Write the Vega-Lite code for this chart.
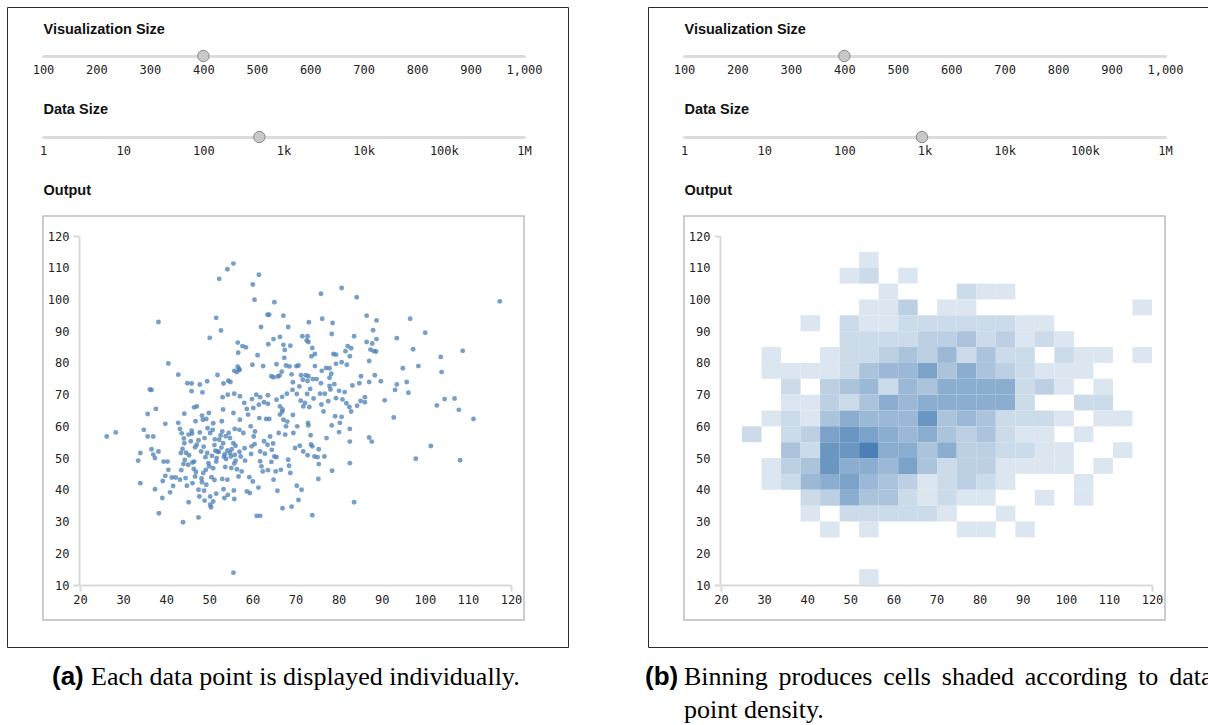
{
  "$schema": "https://vega.github.io/schema/vega-lite/v6.json",
  "padding": {"left": 6, "top": 6, "right": 0, "bottom": 0},
  "background": "white",
  "spacing": 75,
  "config": {
    "view": {"stroke": null},
    "axis": {"grid": false, "labelFont": "DejaVu Sans Mono", "labelFontSize": 12, "labelColor": "#222", "labelFlush": false, "labelOverlap": false, "titleFont": "Liberation Sans", "titleFontWeight": "bold", "titleFontSize": 14.5, "titleColor": "#111"}
  },
  "datasets": {
    "frame": [{"part": "output"}],
    "vizA": [{"size": 400}],
    "dataA": [{"n": 500}],
    "vizB": [{"size": 400}],
    "dataB": [{"n": 930}],
    "points": [
      {"x":55.6,"y":111.3},{"x":54.2,"y":109.5},{"x":52.3,"y":106.5},{"x":61.5,"y":107.8},{"x":60.1,"y":104.7},{"x":60.5,"y":99.9},{"x":65.1,"y":99.1},{"x":38.2,"y":92.9},{"x":51.6,"y":94.2},{"x":52.7,"y":90.2},
      {"x":50.1,"y":87.9},{"x":63.5,"y":95.2},{"x":63.9,"y":95.2},{"x":67.2,"y":94.9},{"x":62.0,"y":91.3},{"x":68.3,"y":91.3},{"x":56.6,"y":86.4},{"x":57.7,"y":85.3},{"x":58.5,"y":84.9},{"x":56.7,"y":83.2},
      {"x":61.2,"y":82.4},{"x":64.9,"y":87.5},{"x":66.4,"y":88.2},{"x":63.7,"y":85.9},{"x":67.2,"y":85.7},{"x":68.8,"y":85.4},{"x":67.5,"y":84.1},{"x":67.4,"y":81.6},{"x":40.5,"y":79.8},{"x":42.8,"y":76.3},
      {"x":51.9,"y":76.2},{"x":60.0,"y":79.4},{"x":62.5,"y":79.0},{"x":65.6,"y":79.6},{"x":67.8,"y":79.2},{"x":68.6,"y":78.9},{"x":56.6,"y":78.8},{"x":57.0,"y":77.8},{"x":55.8,"y":77.5},{"x":56.4,"y":77.1},
      {"x":56.9,"y":78.1},{"x":64.4,"y":75.8},{"x":64.9,"y":75.5},{"x":65.9,"y":75.7},{"x":66.3,"y":76.0},{"x":70.2,"y":79.0},{"x":70.7,"y":79.2},{"x":69.4,"y":73.9},{"x":70.9,"y":72.6},{"x":54.4,"y":74.4},
      {"x":54.9,"y":74.0},{"x":53.3,"y":73.5},{"x":47.8,"y":73.2},{"x":49.5,"y":74.2},{"x":44.9,"y":73.6},{"x":45.9,"y":73.5},{"x":45.9,"y":71.1},{"x":48.4,"y":70.7},{"x":55.8,"y":70.3},{"x":57.1,"y":69.5},
      {"x":53.1,"y":69.2},{"x":54.3,"y":70.0},{"x":60.9,"y":70.0},{"x":61.8,"y":69.2},{"x":63.6,"y":69.8},{"x":65.6,"y":68.4},{"x":66.9,"y":69.3},{"x":68.0,"y":70.3},{"x":70.3,"y":70.2},{"x":69.3,"y":71.5},
      {"x":36.2,"y":71.6},{"x":36.6,"y":71.5},{"x":37.6,"y":65.5},{"x":46.5,"y":66.0},{"x":47.1,"y":66.3},{"x":53.2,"y":65.3},{"x":58.7,"y":65.5},{"x":60.2,"y":65.8},{"x":63.6,"y":67.1},{"x":62.7,"y":67.6},
      {"x":66.4,"y":66.3},{"x":67.0,"y":65.3},{"x":71.8,"y":66.3},{"x":72.8,"y":88.4},{"x":72.6,"y":87.1},{"x":71.6,"y":88.4},{"x":71.3,"y":76.1},{"x":72.4,"y":76.1},{"x":72.8,"y":74.3},{"x":71.7,"y":74.7},
      {"x":72.7,"y":70.2},{"x":61.5,"y":66.8},
      {"x":26.2,"y":56.8},{"x":28.3,"y":58.1},{"x":33.5,"y":49.2},{"x":34.0,"y":51.6},{"x":34.0,"y":42.1},{"x":34.8,"y":58.9},{"x":35.7,"y":63.9},{"x":35.7,"y":56.8},{"x":37.0,"y":56.8},{"x":36.6,"y":52.8},
      {"x":37.0,"y":51.1},{"x":37.4,"y":50.0},{"x":38.2,"y":52.1},{"x":37.4,"y":40.2},{"x":38.3,"y":32.6},{"x":39.1,"y":37.4},{"x":39.8,"y":60.8},{"x":39.4,"y":48.9},{"x":40.3,"y":48.9},{"x":40.5,"y":46.3},
      {"x":39.8,"y":44.4},{"x":40.9,"y":39.2},{"x":41.3,"y":43.9},{"x":42.2,"y":43.9},{"x":42.8,"y":61.1},{"x":43.2,"y":59.2},{"x":43.4,"y":51.6},{"x":43.2,"y":43.2},{"x":43.9,"y":29.8},{"x":44.2,"y":64.0},
      {"x":44.2,"y":54.7},{"x":44.0,"y":48.1},{"x":44.5,"y":43.7},{"x":45.2,"y":36.1},{"x":45.7,"y":55.3},{"x":45.2,"y":57.4},{"x":46.0,"y":57.7},{"x":46.1,"y":48.6},{"x":46.1,"y":42.1},{"x":46.4,"y":46.6},
      {"x":46.5,"y":48.9},{"x":46.8,"y":61.6},{"x":47.1,"y":54.2},{"x":47.5,"y":55.6},{"x":47.5,"y":40.0},{"x":47.7,"y":37.9},{"x":47.5,"y":31.3},{"x":47.8,"y":58.1},{"x":48.1,"y":52.1},{"x":48.5,"y":62.1},
      {"x":48.6,"y":45.3},{"x":48.2,"y":43.6},{"x":48.8,"y":39.7},{"x":49.3,"y":62.3},{"x":49.5,"y":51.6},{"x":49.8,"y":48.4},{"x":50.0,"y":47.4},{"x":50.2,"y":57.9},{"x":49.9,"y":64.2},{"x":50.2,"y":37.9},
      {"x":50.2,"y":35.3},{"x":50.4,"y":34.5},{"x":50.9,"y":36.3},{"x":50.5,"y":44.0},{"x":50.9,"y":46.8},{"x":51.4,"y":52.3},{"x":51.7,"y":50.0},{"x":51.9,"y":52.1},{"x":52.2,"y":51.9},{"x":52.3,"y":55.8},
      {"x":52.9,"y":61.6},{"x":53.0,"y":58.4},{"x":53.2,"y":54.7},{"x":53.0,"y":43.4},{"x":53.3,"y":40.2},{"x":53.5,"y":37.4},{"x":53.9,"y":49.7},{"x":54.2,"y":43.2},{"x":54.3,"y":38.4},{"x":54.5,"y":57.9},
      {"x":54.8,"y":56.3},{"x":54.8,"y":51.6},{"x":55.0,"y":50.5},{"x":55.1,"y":46.9},{"x":55.2,"y":52.8},{"x":55.6,"y":54.7},{"x":55.6,"y":64.2},{"x":55.7,"y":39.8},{"x":55.8,"y":37.1},{"x":55.6,"y":13.9},
      {"x":56.1,"y":49.2},{"x":56.4,"y":46.5},{"x":56.8,"y":44.2},{"x":57.0,"y":52.0},{"x":57.0,"y":58.9},{"x":57.1,"y":62.1},{"x":57.3,"y":50.5},{"x":57.5,"y":45.8},{"x":57.9,"y":57.9},{"x":58.3,"y":49.2},
      {"x":58.7,"y":39.5},{"x":59.0,"y":63.7},{"x":59.3,"y":44.0},{"x":59.4,"y":39.0},{"x":59.6,"y":60.0},{"x":59.8,"y":53.7},{"x":60.1,"y":42.6},{"x":60.3,"y":56.8},{"x":60.6,"y":58.4},{"x":61.0,"y":31.8},
      {"x":61.8,"y":31.8},{"x":61.4,"y":40.7},{"x":61.6,"y":62.6},{"x":61.8,"y":52.1},{"x":61.8,"y":49.0},{"x":62.4,"y":45.8},{"x":62.7,"y":55.3},{"x":63.2,"y":62.3},{"x":63.5,"y":54.2},{"x":63.9,"y":62.3},
      {"x":64.1,"y":56.8},{"x":64.5,"y":52.6},{"x":64.9,"y":43.2},{"x":65.1,"y":50.5},{"x":65.4,"y":45.8},{"x":65.6,"y":50.3},{"x":65.8,"y":39.7},{"x":66.1,"y":57.9},{"x":66.4,"y":63.7},{"x":66.6,"y":46.3},
      {"x":67.0,"y":34.2},{"x":67.2,"y":62.1},{"x":67.6,"y":57.4},{"x":67.8,"y":60.0},{"x":68.3,"y":49.5},{"x":68.5,"y":47.6},{"x":68.8,"y":45.3},{"x":69.1,"y":34.7},{"x":69.5,"y":57.9},{"x":69.9,"y":53.2},
      {"x":70.3,"y":41.3},{"x":70.4,"y":60.0},{"x":70.7,"y":36.8},{"x":71.0,"y":53.9},{"x":71.4,"y":40.0},{"x":71.8,"y":52.1},{"x":72.9,"y":61.1},
      {"x":80.7,"y":103.6},{"x":75.9,"y":101.8},{"x":84.2,"y":100.7},{"x":117.4,"y":99.4},{"x":73.1,"y":92.8},{"x":76.2,"y":93.9},{"x":78.6,"y":92.6},{"x":86.5,"y":94.9},{"x":88.8,"y":93.4},{"x":96.6,"y":93.9},
      {"x":78.4,"y":89.1},{"x":83.6,"y":88.4},{"x":88.0,"y":90.3},{"x":100.1,"y":89.5},{"x":93.5,"y":87.8},{"x":86.5,"y":86.6},{"x":88.8,"y":87.5},{"x":87.8,"y":86.1},{"x":73.0,"y":86.6},{"x":73.9,"y":84.7},
      {"x":74.5,"y":82.8},{"x":73.7,"y":82.1},{"x":78.8,"y":82.8},{"x":79.4,"y":82.6},{"x":81.6,"y":83.7},{"x":82.1,"y":85.3},{"x":82.9,"y":84.6},{"x":87.4,"y":84.2},{"x":88.2,"y":83.7},{"x":88.7,"y":83.6},
      {"x":82.6,"y":82.1},{"x":97.3,"y":84.3},{"x":108.8,"y":83.8},{"x":103.7,"y":81.9},{"x":87.1,"y":80.6},{"x":80.7,"y":80.2},{"x":79.4,"y":79.7},{"x":81.9,"y":79.4},{"x":77.1,"y":78.4},{"x":77.9,"y":78.3},
      {"x":94.9,"y":78.3},{"x":98.5,"y":79.0},{"x":103.9,"y":77.1},{"x":85.2,"y":75.8},{"x":88.4,"y":76.1},{"x":89.8,"y":74.2},{"x":87.1,"y":74.0},{"x":93.5,"y":73.2},{"x":95.8,"y":74.0},{"x":93.1,"y":71.5},
      {"x":96.2,"y":70.6},{"x":90.7,"y":68.2},{"x":86.1,"y":69.2},{"x":86.1,"y":67.6},{"x":84.3,"y":66.5},{"x":82.5,"y":66.1},{"x":80.9,"y":68.5},{"x":79.4,"y":68.9},{"x":77.6,"y":67.9},{"x":75.7,"y":70.3},
      {"x":76.8,"y":70.3},{"x":77.9,"y":72.7},{"x":77.9,"y":75.3},{"x":74.9,"y":74.9},{"x":73.0,"y":75.8},{"x":74.0,"y":74.9},{"x":74.5,"y":79.0},{"x":102.8,"y":66.6},{"x":104.6,"y":68.6},{"x":106.9,"y":68.8},
      {"x":107.9,"y":65.2},{"x":74.2,"y":68.8},{"x":73.2,"y":66.1},{"x":79.0,"y":73.3},{"x":75.9,"y":73.6},{"x":80.1,"y":71.2},
      {"x":76.5,"y":64.7},{"x":111.3,"y":62.3},{"x":92.8,"y":62.8},{"x":79.2,"y":63.2},{"x":80.7,"y":63.0},{"x":82.9,"y":64.7},{"x":80.3,"y":61.1},{"x":82.6,"y":59.2},{"x":80.1,"y":58.2},{"x":78.4,"y":60.3},
      {"x":77.2,"y":56.3},{"x":87.1,"y":56.5},{"x":87.7,"y":55.2},{"x":82.6,"y":55.2},{"x":82.6,"y":48.4},{"x":78.5,"y":46.0},{"x":75.3,"y":43.4},{"x":83.6,"y":36.1},{"x":73.9,"y":32.0},{"x":75.4,"y":52.8},
      {"x":75.4,"y":48.1},{"x":76.7,"y":50.5},{"x":74.4,"y":50.5},{"x":75.1,"y":50.3},{"x":73.6,"y":54.3},{"x":97.9,"y":49.8},{"x":101.4,"y":53.8},{"x":108.2,"y":49.3},{"x":73.0,"y":60.3},{"x":73.5,"y":57.2},
      {"x":44.1,"y":56.2},{"x":45.9,"y":58.6},{"x":43.6,"y":57.8},{"x":48.9,"y":56.3},{"x":50.8,"y":58.9},{"x":51.3,"y":55.9},{"x":49.6,"y":59.4},{"x":53.8,"y":56.9},{"x":55.9,"y":59.2},{"x":52.6,"y":57.1},
      {"x":43.8,"y":52.9},{"x":45.3,"y":50.9},{"x":46.7,"y":53.4},{"x":44.6,"y":51.7},{"x":48.7,"y":53.6},{"x":50.6,"y":50.7},{"x":51.2,"y":54.1},{"x":49.1,"y":50.3},{"x":52.8,"y":53.3},{"x":53.6,"y":51.2},
      {"x":54.2,"y":52.4},{"x":55.9,"y":51.0},{"x":56.1,"y":53.9},{"x":53.4,"y":50.4},{"x":58.2,"y":53.1},{"x":59.7,"y":51.3},{"x":60.5,"y":54.4},{"x":62.9,"y":51.4},{"x":64.8,"y":54.6},{"x":43.5,"y":46.2},
      {"x":45.1,"y":47.9},{"x":46.9,"y":45.6},{"x":44.3,"y":49.4},{"x":49.2,"y":46.3},{"x":51.6,"y":48.9},{"x":53.7,"y":47.2},{"x":55.8,"y":48.3},{"x":62.1,"y":47.4},{"x":63.6,"y":46.2},{"x":64.4,"y":48.8},
      {"x":49.3,"y":41.6},{"x":51.2,"y":43.1},{"x":48.3,"y":42.4},{"x":44.8,"y":41.3},{"x":46.7,"y":44.2},{"x":39.2,"y":42.8},{"x":41.6,"y":41.2},{"x":48.9,"y":36.6},{"x":51.6,"y":38.8},{"x":68.1,"y":61.5},
      {"x":69.4,"y":63.6},{"x":66.9,"y":64.6},{"x":48.3,"y":63.4},{"x":50.9,"y":61.0},{"x":66.8,"y":77.2},{"x":69.1,"y":76.4},{"x":71.2,"y":68.1},{"x":73.4,"y":71.8},{"x":72.2,"y":67.4},{"x":76.1,"y":77.5},
      {"x":78.3,"y":76.6},{"x":76.0,"y":66.9},{"x":78.1,"y":71.6},{"x":81.4,"y":70.8},{"x":83.2,"y":72.9},{"x":81.8,"y":67.3},{"x":85.1,"y":68.0},{"x":84.8,"y":73.6},{"x":72.8,"y":50.9},{"x":73.9,"y":53.7},
      {"x":58.1,"y":67.4},{"x":59.9,"y":68.6}
    ],
    "cells": [
      {"x0":52.05,"x1":56.58,"y0":110,"y1":115,"count":1},
      {"x0":47.52,"x1":52.05,"y0":105,"y1":110,"count":1},{"x0":52.05,"x1":56.58,"y0":105,"y1":110,"count":2},{"x0":61.11,"x1":65.64,"y0":105,"y1":110,"count":1},
      {"x0":56.58,"x1":61.11,"y0":100,"y1":105,"count":1},{"x0":74.70,"x1":79.23,"y0":100,"y1":105,"count":2},{"x0":79.23,"x1":83.76,"y0":100,"y1":105,"count":1},{"x0":83.76,"x1":88.29,"y0":100,"y1":105,"count":1},
      {"x0":52.05,"x1":56.58,"y0":95,"y1":100,"count":1},{"x0":56.58,"x1":61.11,"y0":95,"y1":100,"count":1},{"x0":61.11,"x1":65.64,"y0":95,"y1":100,"count":3},{"x0":70.17,"x1":74.70,"y0":95,"y1":100,"count":1},{"x0":74.70,"x1":79.23,"y0":95,"y1":100,"count":1},{"x0":115.47,"x1":120,"y0":95,"y1":100,"count":1},
      {"x0":38.46,"x1":42.99,"y0":90,"y1":95,"count":1},{"x0":47.52,"x1":52.05,"y0":90,"y1":95,"count":2},{"x0":52.05,"x1":56.58,"y0":90,"y1":95,"count":1},{"x0":56.58,"x1":61.11,"y0":90,"y1":95,"count":1},{"x0":61.11,"x1":65.64,"y0":90,"y1":95,"count":2},{"x0":65.64,"x1":70.17,"y0":90,"y1":95,"count":2},{"x0":70.17,"x1":74.70,"y0":90,"y1":95,"count":2},{"x0":74.70,"x1":79.23,"y0":90,"y1":95,"count":2},{"x0":79.23,"x1":83.76,"y0":90,"y1":95,"count":2},{"x0":83.76,"x1":88.29,"y0":90,"y1":95,"count":2},{"x0":88.29,"x1":92.82,"y0":90,"y1":95,"count":1},{"x0":92.82,"x1":97.35,"y0":90,"y1":95,"count":1},
      {"x0":47.52,"x1":52.05,"y0":85,"y1":90,"count":2},{"x0":52.05,"x1":56.58,"y0":85,"y1":90,"count":2},{"x0":56.58,"x1":61.11,"y0":85,"y1":90,"count":2},{"x0":61.11,"x1":65.64,"y0":85,"y1":90,"count":2},{"x0":65.64,"x1":70.17,"y0":85,"y1":90,"count":3},{"x0":70.17,"x1":74.70,"y0":85,"y1":90,"count":3},{"x0":74.70,"x1":79.23,"y0":85,"y1":90,"count":4},{"x0":79.23,"x1":83.76,"y0":85,"y1":90,"count":2},{"x0":83.76,"x1":88.29,"y0":85,"y1":90,"count":3},{"x0":88.29,"x1":92.82,"y0":85,"y1":90,"count":1},{"x0":92.82,"x1":97.35,"y0":85,"y1":90,"count":2},{"x0":97.35,"x1":101.88,"y0":85,"y1":90,"count":1},
      {"x0":29.40,"x1":33.93,"y0":80,"y1":85,"count":1},{"x0":42.99,"x1":47.52,"y0":80,"y1":85,"count":1},{"x0":47.52,"x1":52.05,"y0":80,"y1":85,"count":2},{"x0":52.05,"x1":56.58,"y0":80,"y1":85,"count":2},{"x0":56.58,"x1":61.11,"y0":80,"y1":85,"count":3},{"x0":61.11,"x1":65.64,"y0":80,"y1":85,"count":4},{"x0":65.64,"x1":70.17,"y0":80,"y1":85,"count":3},{"x0":70.17,"x1":74.70,"y0":80,"y1":85,"count":5},{"x0":74.70,"x1":79.23,"y0":80,"y1":85,"count":2},{"x0":79.23,"x1":83.76,"y0":80,"y1":85,"count":4},{"x0":83.76,"x1":88.29,"y0":80,"y1":85,"count":2},{"x0":88.29,"x1":92.82,"y0":80,"y1":85,"count":2},{"x0":97.35,"x1":101.88,"y0":80,"y1":85,"count":2},{"x0":101.88,"x1":106.41,"y0":80,"y1":85,"count":1},{"x0":106.41,"x1":110.94,"y0":80,"y1":85,"count":1},{"x0":115.47,"x1":120,"y0":80,"y1":85,"count":1},
      {"x0":29.40,"x1":33.93,"y0":75,"y1":80,"count":1},{"x0":33.93,"x1":38.46,"y0":75,"y1":80,"count":1},{"x0":38.46,"x1":42.99,"y0":75,"y1":80,"count":1},{"x0":42.99,"x1":47.52,"y0":75,"y1":80,"count":1},{"x0":47.52,"x1":52.05,"y0":75,"y1":80,"count":2},{"x0":52.05,"x1":56.58,"y0":75,"y1":80,"count":4},{"x0":56.58,"x1":61.11,"y0":75,"y1":80,"count":5},{"x0":61.11,"x1":65.64,"y0":75,"y1":80,"count":5},{"x0":65.64,"x1":70.17,"y0":75,"y1":80,"count":7},{"x0":70.17,"x1":74.70,"y0":75,"y1":80,"count":4},{"x0":74.70,"x1":79.23,"y0":75,"y1":80,"count":6},{"x0":79.23,"x1":83.76,"y0":75,"y1":80,"count":4},{"x0":83.76,"x1":88.29,"y0":75,"y1":80,"count":3},{"x0":88.29,"x1":92.82,"y0":75,"y1":80,"count":2},{"x0":92.82,"x1":97.35,"y0":75,"y1":80,"count":1},{"x0":97.35,"x1":101.88,"y0":75,"y1":80,"count":1},{"x0":101.88,"x1":106.41,"y0":75,"y1":80,"count":1},
      {"x0":33.93,"x1":38.46,"y0":70,"y1":75,"count":2},{"x0":42.99,"x1":47.52,"y0":70,"y1":75,"count":3},{"x0":47.52,"x1":52.05,"y0":70,"y1":75,"count":4},{"x0":52.05,"x1":56.58,"y0":70,"y1":75,"count":5},{"x0":56.58,"x1":61.11,"y0":70,"y1":75,"count":2},{"x0":61.11,"x1":65.64,"y0":70,"y1":75,"count":5},{"x0":65.64,"x1":70.17,"y0":70,"y1":75,"count":4},{"x0":70.17,"x1":74.70,"y0":70,"y1":75,"count":6},{"x0":74.70,"x1":79.23,"y0":70,"y1":75,"count":6},{"x0":79.23,"x1":83.76,"y0":70,"y1":75,"count":6},{"x0":83.76,"x1":88.29,"y0":70,"y1":75,"count":6},{"x0":88.29,"x1":92.82,"y0":70,"y1":75,"count":2},{"x0":92.82,"x1":97.35,"y0":70,"y1":75,"count":3},{"x0":97.35,"x1":101.88,"y0":70,"y1":75,"count":1},{"x0":106.41,"x1":110.94,"y0":70,"y1":75,"count":1},
      {"x0":33.93,"x1":38.46,"y0":65,"y1":70,"count":1},{"x0":38.46,"x1":42.99,"y0":65,"y1":70,"count":1},{"x0":42.99,"x1":47.52,"y0":65,"y1":70,"count":3},{"x0":47.52,"x1":52.05,"y0":65,"y1":70,"count":2},{"x0":52.05,"x1":56.58,"y0":65,"y1":70,"count":4},{"x0":56.58,"x1":61.11,"y0":65,"y1":70,"count":6},{"x0":61.11,"x1":65.64,"y0":65,"y1":70,"count":5},{"x0":65.64,"x1":70.17,"y0":65,"y1":70,"count":6},{"x0":70.17,"x1":74.70,"y0":65,"y1":70,"count":6},{"x0":74.70,"x1":79.23,"y0":65,"y1":70,"count":6},{"x0":79.23,"x1":83.76,"y0":65,"y1":70,"count":6},{"x0":83.76,"x1":88.29,"y0":65,"y1":70,"count":6},{"x0":88.29,"x1":92.82,"y0":65,"y1":70,"count":2},{"x0":101.88,"x1":106.41,"y0":65,"y1":70,"count":2},{"x0":106.41,"x1":110.94,"y0":65,"y1":70,"count":2},
      {"x0":29.40,"x1":33.93,"y0":60,"y1":65,"count":1},{"x0":33.93,"x1":38.46,"y0":60,"y1":65,"count":2},{"x0":38.46,"x1":42.99,"y0":60,"y1":65,"count":1},{"x0":42.99,"x1":47.52,"y0":60,"y1":65,"count":4},{"x0":47.52,"x1":52.05,"y0":60,"y1":65,"count":6},{"x0":52.05,"x1":56.58,"y0":60,"y1":65,"count":5},{"x0":56.58,"x1":61.11,"y0":60,"y1":65,"count":5},{"x0":61.11,"x1":65.64,"y0":60,"y1":65,"count":5},{"x0":65.64,"x1":70.17,"y0":60,"y1":65,"count":8},{"x0":70.17,"x1":74.70,"y0":60,"y1":65,"count":4},{"x0":74.70,"x1":79.23,"y0":60,"y1":65,"count":5},{"x0":79.23,"x1":83.76,"y0":60,"y1":65,"count":4},{"x0":83.76,"x1":88.29,"y0":60,"y1":65,"count":2},{"x0":88.29,"x1":92.82,"y0":60,"y1":65,"count":2},{"x0":92.82,"x1":97.35,"y0":60,"y1":65,"count":2},{"x0":97.35,"x1":101.88,"y0":60,"y1":65,"count":1},{"x0":106.41,"x1":110.94,"y0":60,"y1":65,"count":1},{"x0":110.94,"x1":115.47,"y0":60,"y1":65,"count":1},
      {"x0":24.87,"x1":29.40,"y0":55,"y1":60,"count":2},{"x0":33.93,"x1":38.46,"y0":55,"y1":60,"count":2},{"x0":38.46,"x1":42.99,"y0":55,"y1":60,"count":3},{"x0":42.99,"x1":47.52,"y0":55,"y1":60,"count":7},{"x0":47.52,"x1":52.05,"y0":55,"y1":60,"count":8},{"x0":52.05,"x1":56.58,"y0":55,"y1":60,"count":7},{"x0":56.58,"x1":61.11,"y0":55,"y1":60,"count":6},{"x0":61.11,"x1":65.64,"y0":55,"y1":60,"count":5},{"x0":65.64,"x1":70.17,"y0":55,"y1":60,"count":6},{"x0":70.17,"x1":74.70,"y0":55,"y1":60,"count":4},{"x0":74.70,"x1":79.23,"y0":55,"y1":60,"count":3},{"x0":79.23,"x1":83.76,"y0":55,"y1":60,"count":4},{"x0":83.76,"x1":88.29,"y0":55,"y1":60,"count":2},{"x0":88.29,"x1":92.82,"y0":55,"y1":60,"count":1},{"x0":92.82,"x1":97.35,"y0":55,"y1":60,"count":1},{"x0":101.88,"x1":106.41,"y0":55,"y1":60,"count":1},
      {"x0":33.93,"x1":38.46,"y0":50,"y1":55,"count":4},{"x0":38.46,"x1":42.99,"y0":50,"y1":55,"count":2},{"x0":42.99,"x1":47.52,"y0":50,"y1":55,"count":8},{"x0":47.52,"x1":52.05,"y0":50,"y1":55,"count":8},{"x0":52.05,"x1":56.58,"y0":50,"y1":55,"count":10},{"x0":56.58,"x1":61.11,"y0":50,"y1":55,"count":6},{"x0":61.11,"x1":65.64,"y0":50,"y1":55,"count":6},{"x0":65.64,"x1":70.17,"y0":50,"y1":55,"count":4},{"x0":70.17,"x1":74.70,"y0":50,"y1":55,"count":6},{"x0":74.70,"x1":79.23,"y0":50,"y1":55,"count":3},{"x0":79.23,"x1":83.76,"y0":50,"y1":55,"count":3},{"x0":83.76,"x1":88.29,"y0":50,"y1":55,"count":2},{"x0":88.29,"x1":92.82,"y0":50,"y1":55,"count":2},{"x0":92.82,"x1":97.35,"y0":50,"y1":55,"count":1},{"x0":97.35,"x1":101.88,"y0":50,"y1":55,"count":1},{"x0":110.94,"x1":115.47,"y0":50,"y1":55,"count":1},
      {"x0":29.40,"x1":33.93,"y0":45,"y1":50,"count":1},{"x0":33.93,"x1":38.46,"y0":45,"y1":50,"count":3},{"x0":38.46,"x1":42.99,"y0":45,"y1":50,"count":4},{"x0":42.99,"x1":47.52,"y0":45,"y1":50,"count":8},{"x0":47.52,"x1":52.05,"y0":45,"y1":50,"count":6},{"x0":52.05,"x1":56.58,"y0":45,"y1":50,"count":6},{"x0":56.58,"x1":61.11,"y0":45,"y1":50,"count":5},{"x0":61.11,"x1":65.64,"y0":45,"y1":50,"count":7},{"x0":65.64,"x1":70.17,"y0":45,"y1":50,"count":4},{"x0":70.17,"x1":74.70,"y0":45,"y1":50,"count":2},{"x0":74.70,"x1":79.23,"y0":45,"y1":50,"count":3},{"x0":79.23,"x1":83.76,"y0":45,"y1":50,"count":3},{"x0":83.76,"x1":88.29,"y0":45,"y1":50,"count":1},{"x0":88.29,"x1":92.82,"y0":45,"y1":50,"count":1},{"x0":92.82,"x1":97.35,"y0":45,"y1":50,"count":1},{"x0":97.35,"x1":101.88,"y0":45,"y1":50,"count":1},{"x0":106.41,"x1":110.94,"y0":45,"y1":50,"count":1},
      {"x0":29.40,"x1":33.93,"y0":40,"y1":45,"count":1},{"x0":33.93,"x1":38.46,"y0":40,"y1":45,"count":2},{"x0":38.46,"x1":42.99,"y0":40,"y1":45,"count":5},{"x0":42.99,"x1":47.52,"y0":40,"y1":45,"count":6},{"x0":47.52,"x1":52.05,"y0":40,"y1":45,"count":7},{"x0":52.05,"x1":56.58,"y0":40,"y1":45,"count":5},{"x0":56.58,"x1":61.11,"y0":40,"y1":45,"count":4},{"x0":61.11,"x1":65.64,"y0":40,"y1":45,"count":3},{"x0":65.64,"x1":70.17,"y0":40,"y1":45,"count":1},{"x0":70.17,"x1":74.70,"y0":40,"y1":45,"count":2},{"x0":74.70,"x1":79.23,"y0":40,"y1":45,"count":3},{"x0":79.23,"x1":83.76,"y0":40,"y1":45,"count":2},{"x0":83.76,"x1":88.29,"y0":40,"y1":45,"count":1},{"x0":101.88,"x1":106.41,"y0":40,"y1":45,"count":1},
      {"x0":38.46,"x1":42.99,"y0":35,"y1":40,"count":2},{"x0":42.99,"x1":47.52,"y0":35,"y1":40,"count":3},{"x0":47.52,"x1":52.05,"y0":35,"y1":40,"count":6},{"x0":52.05,"x1":56.58,"y0":35,"y1":40,"count":4},{"x0":56.58,"x1":61.11,"y0":35,"y1":40,"count":4},{"x0":61.11,"x1":65.64,"y0":35,"y1":40,"count":2},{"x0":65.64,"x1":70.17,"y0":35,"y1":40,"count":1},{"x0":70.17,"x1":74.70,"y0":35,"y1":40,"count":2},{"x0":74.70,"x1":79.23,"y0":35,"y1":40,"count":1},{"x0":79.23,"x1":83.76,"y0":35,"y1":40,"count":1},{"x0":92.82,"x1":97.35,"y0":35,"y1":40,"count":1},{"x0":101.88,"x1":106.41,"y0":35,"y1":40,"count":1},
      {"x0":38.46,"x1":42.99,"y0":30,"y1":35,"count":1},{"x0":47.52,"x1":52.05,"y0":30,"y1":35,"count":2},{"x0":52.05,"x1":56.58,"y0":30,"y1":35,"count":2},{"x0":56.58,"x1":61.11,"y0":30,"y1":35,"count":2},{"x0":61.11,"x1":65.64,"y0":30,"y1":35,"count":2},{"x0":65.64,"x1":70.17,"y0":30,"y1":35,"count":2},{"x0":70.17,"x1":74.70,"y0":30,"y1":35,"count":1},{"x0":83.76,"x1":88.29,"y0":30,"y1":35,"count":1},
      {"x0":42.99,"x1":47.52,"y0":25,"y1":30,"count":1},{"x0":52.05,"x1":56.58,"y0":25,"y1":30,"count":1},{"x0":74.70,"x1":79.23,"y0":25,"y1":30,"count":1},{"x0":79.23,"x1":83.76,"y0":25,"y1":30,"count":1},{"x0":88.29,"x1":92.82,"y0":25,"y1":30,"count":1},
      {"x0":52.05,"x1":56.58,"y0":10,"y1":15,"count":1}
    ]
  },
  "hconcat": [
    {
      "width": 561,
      "height": 640,
      "view": {"stroke": "#2b2b2b", "strokeWidth": 1},
      "title": {
        "text": "(a)",
        "subtitle": "\u200b\u00a0\u00a0\u00a0\u00a0\u00a0\u00a0Each data point is displayed individually.",
        "orient": "bottom", "anchor": "start", "baseline": "top", "dx": 45, "offset": 17,
        "font": "Liberation Sans", "fontWeight": "bold", "fontSize": 26, "color": "#000",
        "subtitleFont": "Liberation Serif", "subtitleFontSize": 26, "subtitleFontWeight": "normal", "subtitleColor": "#000", "subtitlePadding": -26
      },
      "resolve": {"scale": {"x": "independent", "y": "independent"}},
      "layer": [
        {
          "data": {"name": "frame"},
          "mark": {"type": "rect", "fill": "transparent", "stroke": "#bdbdbd", "strokeWidth": 1.5},
          "encoding": {
            "x": {"datum": 0, "type": "quantitative", "scale": {"domain": [0, 1], "range": [36, 517]},
              "axis": {"orient": "top", "domain": false, "ticks": false, "labels": false, "title": "Output", "titleX": 36, "titleY": 187, "titleAlign": "left", "titleBaseline": "alphabetic"}},
            "x2": {"datum": 1},
            "y": {"datum": 0, "type": "quantitative", "scale": {"domain": [0, 1], "range": [209, 613]}, "axis": null},
            "y2": {"datum": 1}
          }
        },
        {
          "data": {"name": "vizA"},
          "mark": {"type": "point", "filled": true, "fill": "#c9c9c9", "stroke": "#8a8a8a", "strokeWidth": 1, "size": 130, "opacity": 1},
          "encoding": {
            "x": {"field": "size", "type": "quantitative", "scale": {"domain": [100, 1000], "range": [36, 517], "nice": false},
              "axis": {"orient": "bottom", "offset": -591, "values": [100, 200, 300, 400, 500, 600, 700, 800, 900, 1000], "format": ",d", "domainColor": "#dcdcdc", "domainWidth": 3, "domainCap": "round", "ticks": false, "labelPadding": 8,
                "title": "Visualization Size", "titleX": 36, "titleY": -23, "titleAlign": "left", "titleBaseline": "alphabetic"}},
            "y": {"datum": 0, "type": "quantitative", "scale": {"domain": [0, 1], "range": [49, 49]}, "axis": null}
          }
        },
        {
          "data": {"name": "dataA"},
          "mark": {"type": "point", "filled": true, "fill": "#c9c9c9", "stroke": "#8a8a8a", "strokeWidth": 1, "size": 130, "opacity": 1},
          "encoding": {
            "x": {"field": "n", "type": "quantitative", "scale": {"type": "log", "domain": [1, 1000000], "range": [36, 517], "nice": false},
              "axis": {"orient": "bottom", "offset": -510, "values": [1, 10, 100, 1000, 10000, 100000, 1000000], "format": "~s", "domainColor": "#dcdcdc", "domainWidth": 3, "domainCap": "round", "ticks": false, "labelPadding": 8,
                "title": "Data Size", "titleX": 36, "titleY": -24, "titleAlign": "left", "titleBaseline": "alphabetic"}},
            "y": {"datum": 0, "type": "quantitative", "scale": {"domain": [0, 1], "range": [130, 130]}, "axis": null}
          }
        },
        {
          "data": {"name": "points"},
          "mark": {"type": "circle", "size": 24, "color": "#4a7fb5", "opacity": 0.75},
          "encoding": {
            "x": {"field": "x", "type": "quantitative", "scale": {"domain": [20, 120], "range": [73, 504], "nice": false},
              "axis": {"orient": "bottom", "offset": -62, "values": [20, 30, 40, 50, 60, 70, 80, 90, 100, 110, 120], "domainColor": "#d9d9d9", "domainWidth": 2, "tickColor": "#d9d9d9", "tickWidth": 2, "tickSize": 6,
                "tickOpacity": {"condition": {"test": "datum.value == 20 || datum.value == 120", "value": 1}, "value": 0}, "labelPadding": 3, "title": null}},
            "y": {"field": "y", "type": "quantitative", "scale": {"domain": [10, 120], "range": [578, 229], "nice": false},
              "axis": {"orient": "left", "offset": -72, "values": [10, 20, 30, 40, 50, 60, 70, 80, 90, 100, 110, 120], "domainColor": "#d9d9d9", "domainWidth": 2, "tickColor": "#d9d9d9", "tickWidth": 2, "tickSize": 6,
                "tickOpacity": {"condition": {"test": "datum.value == 10 || datum.value == 120", "value": 1}, "value": 0}, "labelPadding": 4, "title": null}}
          }
        }
      ]
    },
    {
      "width": 561,
      "height": 640,
      "view": {"stroke": "#2b2b2b", "strokeWidth": 1},
      "title": {
        "text": "(b)",
        "subtitle": ["\u200b\u00a0\u00a0\u00a0\u00a0\u00a0\u00a0Binning \u2006produces \u2006cells \u2006shaded \u2006according \u2006to \u2006data", "\u200b\u00a0\u00a0\u00a0\u00a0\u00a0\u00a0point density."],
        "orient": "bottom", "anchor": "start", "baseline": "top", "dx": -3, "offset": 17,
        "font": "Liberation Sans", "fontWeight": "bold", "fontSize": 26, "color": "#000",
        "subtitleFont": "Liberation Serif", "subtitleFontSize": 26, "subtitleFontWeight": "normal", "subtitleColor": "#000", "subtitlePadding": -26, "subtitleLineHeight": 33
      },
      "resolve": {"scale": {"x": "independent", "y": "independent"}},
      "layer": [
        {
          "data": {"name": "frame"},
          "mark": {"type": "rect", "fill": "transparent", "stroke": "#bdbdbd", "strokeWidth": 1.5},
          "encoding": {
            "x": {"datum": 0, "type": "quantitative", "scale": {"domain": [0, 1], "range": [36, 517]},
              "axis": {"orient": "top", "domain": false, "ticks": false, "labels": false, "title": "Output", "titleX": 36, "titleY": 187, "titleAlign": "left", "titleBaseline": "alphabetic"}},
            "x2": {"datum": 1},
            "y": {"datum": 0, "type": "quantitative", "scale": {"domain": [0, 1], "range": [209, 613]}, "axis": null},
            "y2": {"datum": 1}
          }
        },
        {
          "data": {"name": "vizB"},
          "mark": {"type": "point", "filled": true, "fill": "#c9c9c9", "stroke": "#8a8a8a", "strokeWidth": 1, "size": 130, "opacity": 1},
          "encoding": {
            "x": {"field": "size", "type": "quantitative", "scale": {"domain": [100, 1000], "range": [36, 517], "nice": false},
              "axis": {"orient": "bottom", "offset": -591, "values": [100, 200, 300, 400, 500, 600, 700, 800, 900, 1000], "format": ",d", "domainColor": "#dcdcdc", "domainWidth": 3, "domainCap": "round", "ticks": false, "labelPadding": 8,
                "title": "Visualization Size", "titleX": 36, "titleY": -23, "titleAlign": "left", "titleBaseline": "alphabetic"}},
            "y": {"datum": 0, "type": "quantitative", "scale": {"domain": [0, 1], "range": [49, 49]}, "axis": null}
          }
        },
        {
          "data": {"name": "dataB"},
          "mark": {"type": "point", "filled": true, "fill": "#c9c9c9", "stroke": "#8a8a8a", "strokeWidth": 1, "size": 130, "opacity": 1},
          "encoding": {
            "x": {"field": "n", "type": "quantitative", "scale": {"type": "log", "domain": [1, 1000000], "range": [36, 517], "nice": false},
              "axis": {"orient": "bottom", "offset": -510, "values": [1, 10, 100, 1000, 10000, 100000, 1000000], "format": "~s", "domainColor": "#dcdcdc", "domainWidth": 3, "domainCap": "round", "ticks": false, "labelPadding": 8,
                "title": "Data Size", "titleX": 36, "titleY": -24, "titleAlign": "left", "titleBaseline": "alphabetic"}},
            "y": {"datum": 0, "type": "quantitative", "scale": {"domain": [0, 1], "range": [130, 130]}, "axis": null}
          }
        },
        {
          "data": {"name": "cells"},
          "mark": {"type": "rect"},
          "encoding": {
            "x": {"field": "x0", "type": "quantitative", "scale": {"domain": [20, 120], "range": [73, 504], "nice": false},
              "axis": {"orient": "bottom", "offset": -62, "values": [20, 30, 40, 50, 60, 70, 80, 90, 100, 110, 120], "domainColor": "#d9d9d9", "domainWidth": 2, "tickColor": "#d9d9d9", "tickWidth": 2, "tickSize": 6,
                "tickOpacity": {"condition": {"test": "datum.value == 20 || datum.value == 120", "value": 1}, "value": 0}, "labelPadding": 3, "title": null}},
            "x2": {"field": "x1"},
            "y": {"field": "y0", "type": "quantitative", "scale": {"domain": [10, 120], "range": [578, 229], "nice": false},
              "axis": {"orient": "left", "offset": -72, "values": [10, 20, 30, 40, 50, 60, 70, 80, 90, 100, 110, 120], "domainColor": "#d9d9d9", "domainWidth": 2, "tickColor": "#d9d9d9", "tickWidth": 2, "tickSize": 6,
                "tickOpacity": {"condition": {"test": "datum.value == 10 || datum.value == 120", "value": 1}, "value": 0}, "labelPadding": 4, "title": null}},
            "y2": {"field": "y1"},
            "color": {"field": "count", "type": "quantitative", "scale": {"domain": [1, 10], "range": ["#dce6f0", "#4a80b5"], "interpolate": "rgb"}, "legend": null}
          }
        }
      ]
    }
  ]
}
